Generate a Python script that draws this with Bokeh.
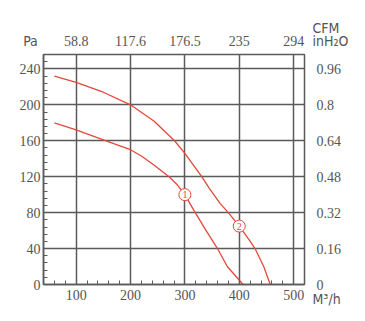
from bokeh.plotting import figure
from bokeh.models import LinearAxis, FixedTicker, Label
from bokeh.core.properties import value
from bokeh.embed import file_html
from bokeh.resources import INLINE

# ---- data ----
flow1 = [60, 100, 150, 182, 200, 220, 243, 271, 286, 300, 316, 338, 360, 378, 407]
pres1 = [180, 172, 161, 154, 150, 143, 133, 120, 111, 100, 83, 61, 40, 20, 0]
flow2 = [60, 100, 150, 200, 243, 281, 300, 331, 345, 365, 380, 400, 418, 429, 445, 457]
pres2 = [232, 225, 214, 200, 182, 160, 146, 120, 107, 90, 80, 65, 50, 40, 20, 0]
marker_flow = [300, 400]
marker_pres = [100, 65]
marker_labels = ["1", "2"]
pa_ticks = [0, 40, 80, 120, 160, 200, 240]
inh2o_labels = ["0", "0.16", "0.32", "0.48", "0.64", "0.8", "0.96"]
m3h_ticks = [100, 200, 300, 400, 500]
cfm_labels = ["58.8", "117.6", "176.5", "235", "294"]

FONT = "Liberation Sans Narrow"
LFONT = "'Liberation Sans Narrow', 'DejaVu Sans Condensed', sans-serif"
GRID = "#5a5a5a"
TXT = "#555555"
RED = "#e2483b"

p = figure(width=360, height=318, x_range=(40, 520), y_range=(0, 256),
           output_backend="svg", toolbar_location=None,
           min_border_left=43, min_border_right=56,
           min_border_top=53, min_border_bottom=33)
p.background_fill_color = "white"
p.border_fill_color = "white"
p.outline_line_color = GRID
p.outline_line_width = 1.5

# grids
p.xgrid.ticker = FixedTicker(ticks=m3h_ticks)
p.ygrid.ticker = FixedTicker(ticks=pa_ticks[1:])
for g in (p.xgrid[0], p.ygrid[0]):
    g.grid_line_color = GRID
    g.grid_line_width = 1.5

# bottom axis
xa = p.xaxis[0]
xa.ticker = FixedTicker(ticks=m3h_ticks, minor_ticks=list(range(40, 521, 20)))
# left axis
ya = p.yaxis[0]
ya.ticker = FixedTicker(ticks=pa_ticks, minor_ticks=list(range(0, 257, 8)))
for ax in (xa, ya):
    ax.axis_line_color = GRID
    ax.axis_line_width = 1.5
    ax.major_tick_line_color = GRID
    ax.minor_tick_line_color = GRID
    ax.major_tick_in = 4
    ax.major_tick_out = 0
    ax.minor_tick_in = 4
    ax.minor_tick_out = 0
    ax.major_label_text_font = FONT
    ax.major_label_text_font_size = "14px"
    ax.major_label_text_color = TXT
xa.major_label_standoff = 5
ya.major_label_standoff = 3

# right axis (inH2O)
ra = LinearAxis(ticker=FixedTicker(ticks=pa_ticks),
                major_label_overrides={t: l for t, l in zip(pa_ticks, inh2o_labels)})
# top axis (CFM)
ta = LinearAxis(ticker=FixedTicker(ticks=m3h_ticks),
                major_label_overrides={t: l for t, l in zip(m3h_ticks, cfm_labels)})
for ax in (ra, ta):
    ax.axis_line_color = None
    ax.major_tick_line_color = None
    ax.minor_tick_line_color = None
    ax.major_label_text_font = FONT
    ax.major_label_text_font_size = "14px"
    ax.major_label_text_color = TXT
ra.major_label_standoff = 6
ta.major_label_standoff = 3
p.add_layout(ra, "right")
p.add_layout(ta, "above")

# curves
p.line(flow1, pres1, line_color=RED, line_width=1.3)
p.line(flow2, pres2, line_color=RED, line_width=1.3)
p.scatter(marker_flow, marker_pres, size=12, fill_color="white",
          line_color=RED, line_width=1)
p.text(x=marker_flow, y=marker_pres, text=marker_labels, text_align="center",
       text_baseline="middle", text_font_size="10px", text_color=RED,
       text_font=value(FONT))

# unit labels (canvas coordinates), placed in side panels so they are not clipped
for (lx, ly, txt, al, side) in [(30, 40, "Pa", "center", "left"),
                                (312, 27, "CFM", "left", "above"),
                                (312, 40, "inH\u2082O", "left", "above"),
                                (312, 298, "M\u00b3/h", "left", "below")]:
    p.add_layout(Label(x=lx, y=ly, x_units="canvas", y_units="canvas", text=txt,
                       text_align=al, text_baseline="middle",
                       text_font=LFONT, text_font_size="14px", text_color=TXT), side)

open("out.html", "w").write(file_html(p, INLINE))
